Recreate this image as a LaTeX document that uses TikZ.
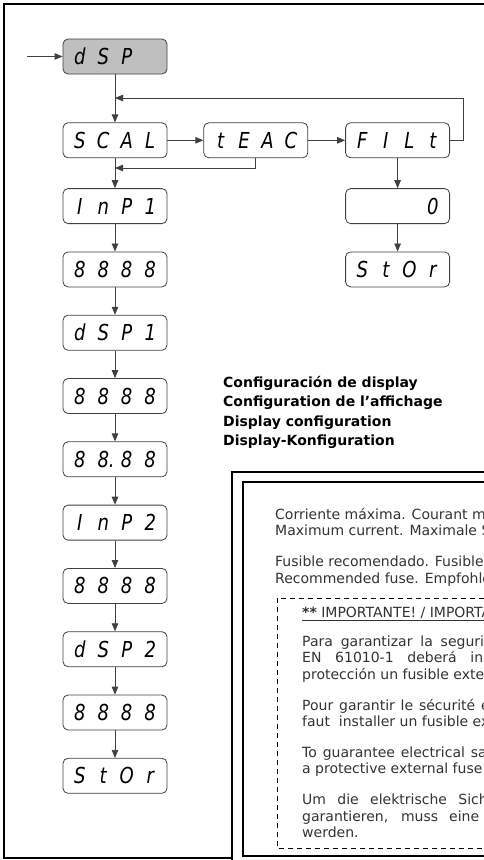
\documentclass[tikz,border=0pt]{standalone}
\usepackage{fontspec}
\setmainfont{DejaVu Sans}
\newfontfamily\segfont[FakeStretch=0.82]{DejaVu Sans}
\usetikzlibrary{arrows.meta,positioning}
\tikzset{
  dispbox/.style={
    draw=black!75,
    rounded corners=5pt,
    minimum width=104pt,
    minimum height=35pt,
    inner sep=0pt,
    line width=0.8pt,
    font=\segfont\itshape\fontsize{22}{22}\selectfont
  },
  menubox/.style={
    dispbox,
    fill=black!25
  },
  flowarrow/.style={
    -{Triangle[length=8pt,width=6.5pt]},
    draw=black!75,
    line width=0.8pt
  },
  framebox/.style={
    draw=black,
    line width=2pt
  },
  headtext/.style={
    anchor=north west,
    inner sep=0pt,
    align=left,
    font=\bfseries\fontsize{14}{19.3}\selectfont
  },
  notetext/.style={
    anchor=north west,
    inner sep=0pt,
    text width=400pt,
    align=justify,
    text=black!80,
    font=\fontsize{14}{16.5}\selectfont
  }
}
\newcommand{\segs}[4]{%
  \makebox[23.5pt]{#1}\makebox[23.5pt]{#2}\makebox[23.5pt]{#3}\makebox[23.5pt]{#4}}

\begin{document}
\begin{tikzpicture}[x=1pt, y=-1pt, node distance=27.5pt]
  \useasboundingbox (0,0) rectangle (484,860);
  \clip (0,0) rectangle (484,860);
  % frame and note panel
  \draw[framebox] (4,4) rectangle (540,858);
  \draw[framebox, fill=white] (232,472) rectangle (540,870);
  \draw[framebox, line width=2.5pt] (243,482) rectangle (540,856);
  \draw[line width=1pt, dash pattern=on 5pt off 4pt] (277,598) rectangle (540,848);

  % display menu
  \node[menubox] (dsp) at (115,56.5) {\segs{d}{S}{P}{}};
  \node[dispbox, below=48pt of dsp] (scal) {\segs{S}{C}{A}{L}};
  \node[dispbox, right=36pt of scal] (teac) {\segs{t}{E}{A}{C}};
  \node[dispbox, right=37pt of teac] (filt) {\segs{F}{I}{L}{t}};
  \node[dispbox, below=30pt of filt] (zero) {\segs{}{}{}{0}};
  \node[dispbox, below=of zero] (storb) {\segs{S}{t}{O}{r}};
  \node[dispbox, below=30pt of scal] (inpa) {\segs{I}{n}{P}{1}};
  \node[dispbox, below=of inpa] (vala) {\segs{8}{8}{8}{8}};
  \node[dispbox, below=of vala] (dspa) {\segs{d}{S}{P}{1}};
  \node[dispbox, below=of dspa] (valb) {\segs{8}{8}{8}{8}};
  \node[dispbox, below=of valb] (decp) {\segs{8}{8\rlap{.}}{8}{8}};
  \node[dispbox, below=of decp] (inpb) {\segs{I}{n}{P}{2}};
  \node[dispbox, below=of inpb] (valc) {\segs{8}{8}{8}{8}};
  \node[dispbox, below=of valc] (dspb) {\segs{d}{S}{P}{2}};
  \node[dispbox, below=of dspb] (vald) {\segs{8}{8}{8}{8}};
  \node[dispbox, below=of vald] (stora) {\segs{S}{t}{O}{r}};

  \coordinate (entry) at (27,56.5);
  \coordinate (topjoin) at (dsp.south |- 0,98);
  \coordinate (midjoin) at (scal.south |- 0,168);

  \draw[flowarrow] (entry) -- (dsp);
  \draw[flowarrow] (dsp) -- (scal);
  \draw[flowarrow] (scal) -- (teac);
  \draw[flowarrow] (teac) -- (filt);
  \draw[flowarrow] (filt.east) -- ++(13,0) |- (topjoin);
  \draw[flowarrow] (teac.south) |- (midjoin);
  \draw[flowarrow] (scal) -- (inpa);
  \draw[flowarrow] (filt) -- (zero);
  \draw[flowarrow] (zero) -- (storb);
  \foreach \a/\b in {inpa/vala,vala/dspa,dspa/valb,valb/decp,decp/inpb,
                     inpb/valc,valc/dspb,dspb/vald,vald/stora}
    \draw[flowarrow] (\a) -- (\b);

  % captions
  \node[headtext] (title) at (223,376) {Configuración de display\\
    Configuration de l’affichage\\Display configuration\\Display-Konfiguration};

  \node[notetext] (current) at (275,508) {Corriente máxima. Courant maximal.\\
    Maximum current. Maximale Stromstärke.};
  \node[notetext] (fuse) at (275,555.5) {Fusible recomendado. Fusible conseillé.\\
    Recommended fuse. Empfohlene Sicherung.};
  \node[notetext] (warn) at (302,607)
    {\underline{\textbf{**} IMPORTANTE! / IMPORTANT! / WICHTIG!}};
  \node[notetext] (esp) at (302,635) {Para garantizar la seguridad eléctrica según la norma\linebreak
    EN 61010-1 deberá instalarse como elemento de\linebreak protección un fusible externo.};
  \node[notetext] (fra) at (302,699) {Pour garantir le sécurité électrique selon EN 61010-1, il\linebreak
    faut\ \ installer un fusible externe de protection.};
  \node[notetext] (eng) at (302,746.5) {To guarantee electrical safety according to EN 61010-1,\linebreak
    a protective external fuse must be installed.};
  \node[notetext] (deu) at (302,794) {Um die elektrische Sicherheit nach EN 61010-1 zu\linebreak
    garantieren, muss eine externe Sicherung installiert\linebreak werden.};
\end{tikzpicture}
\end{document}
